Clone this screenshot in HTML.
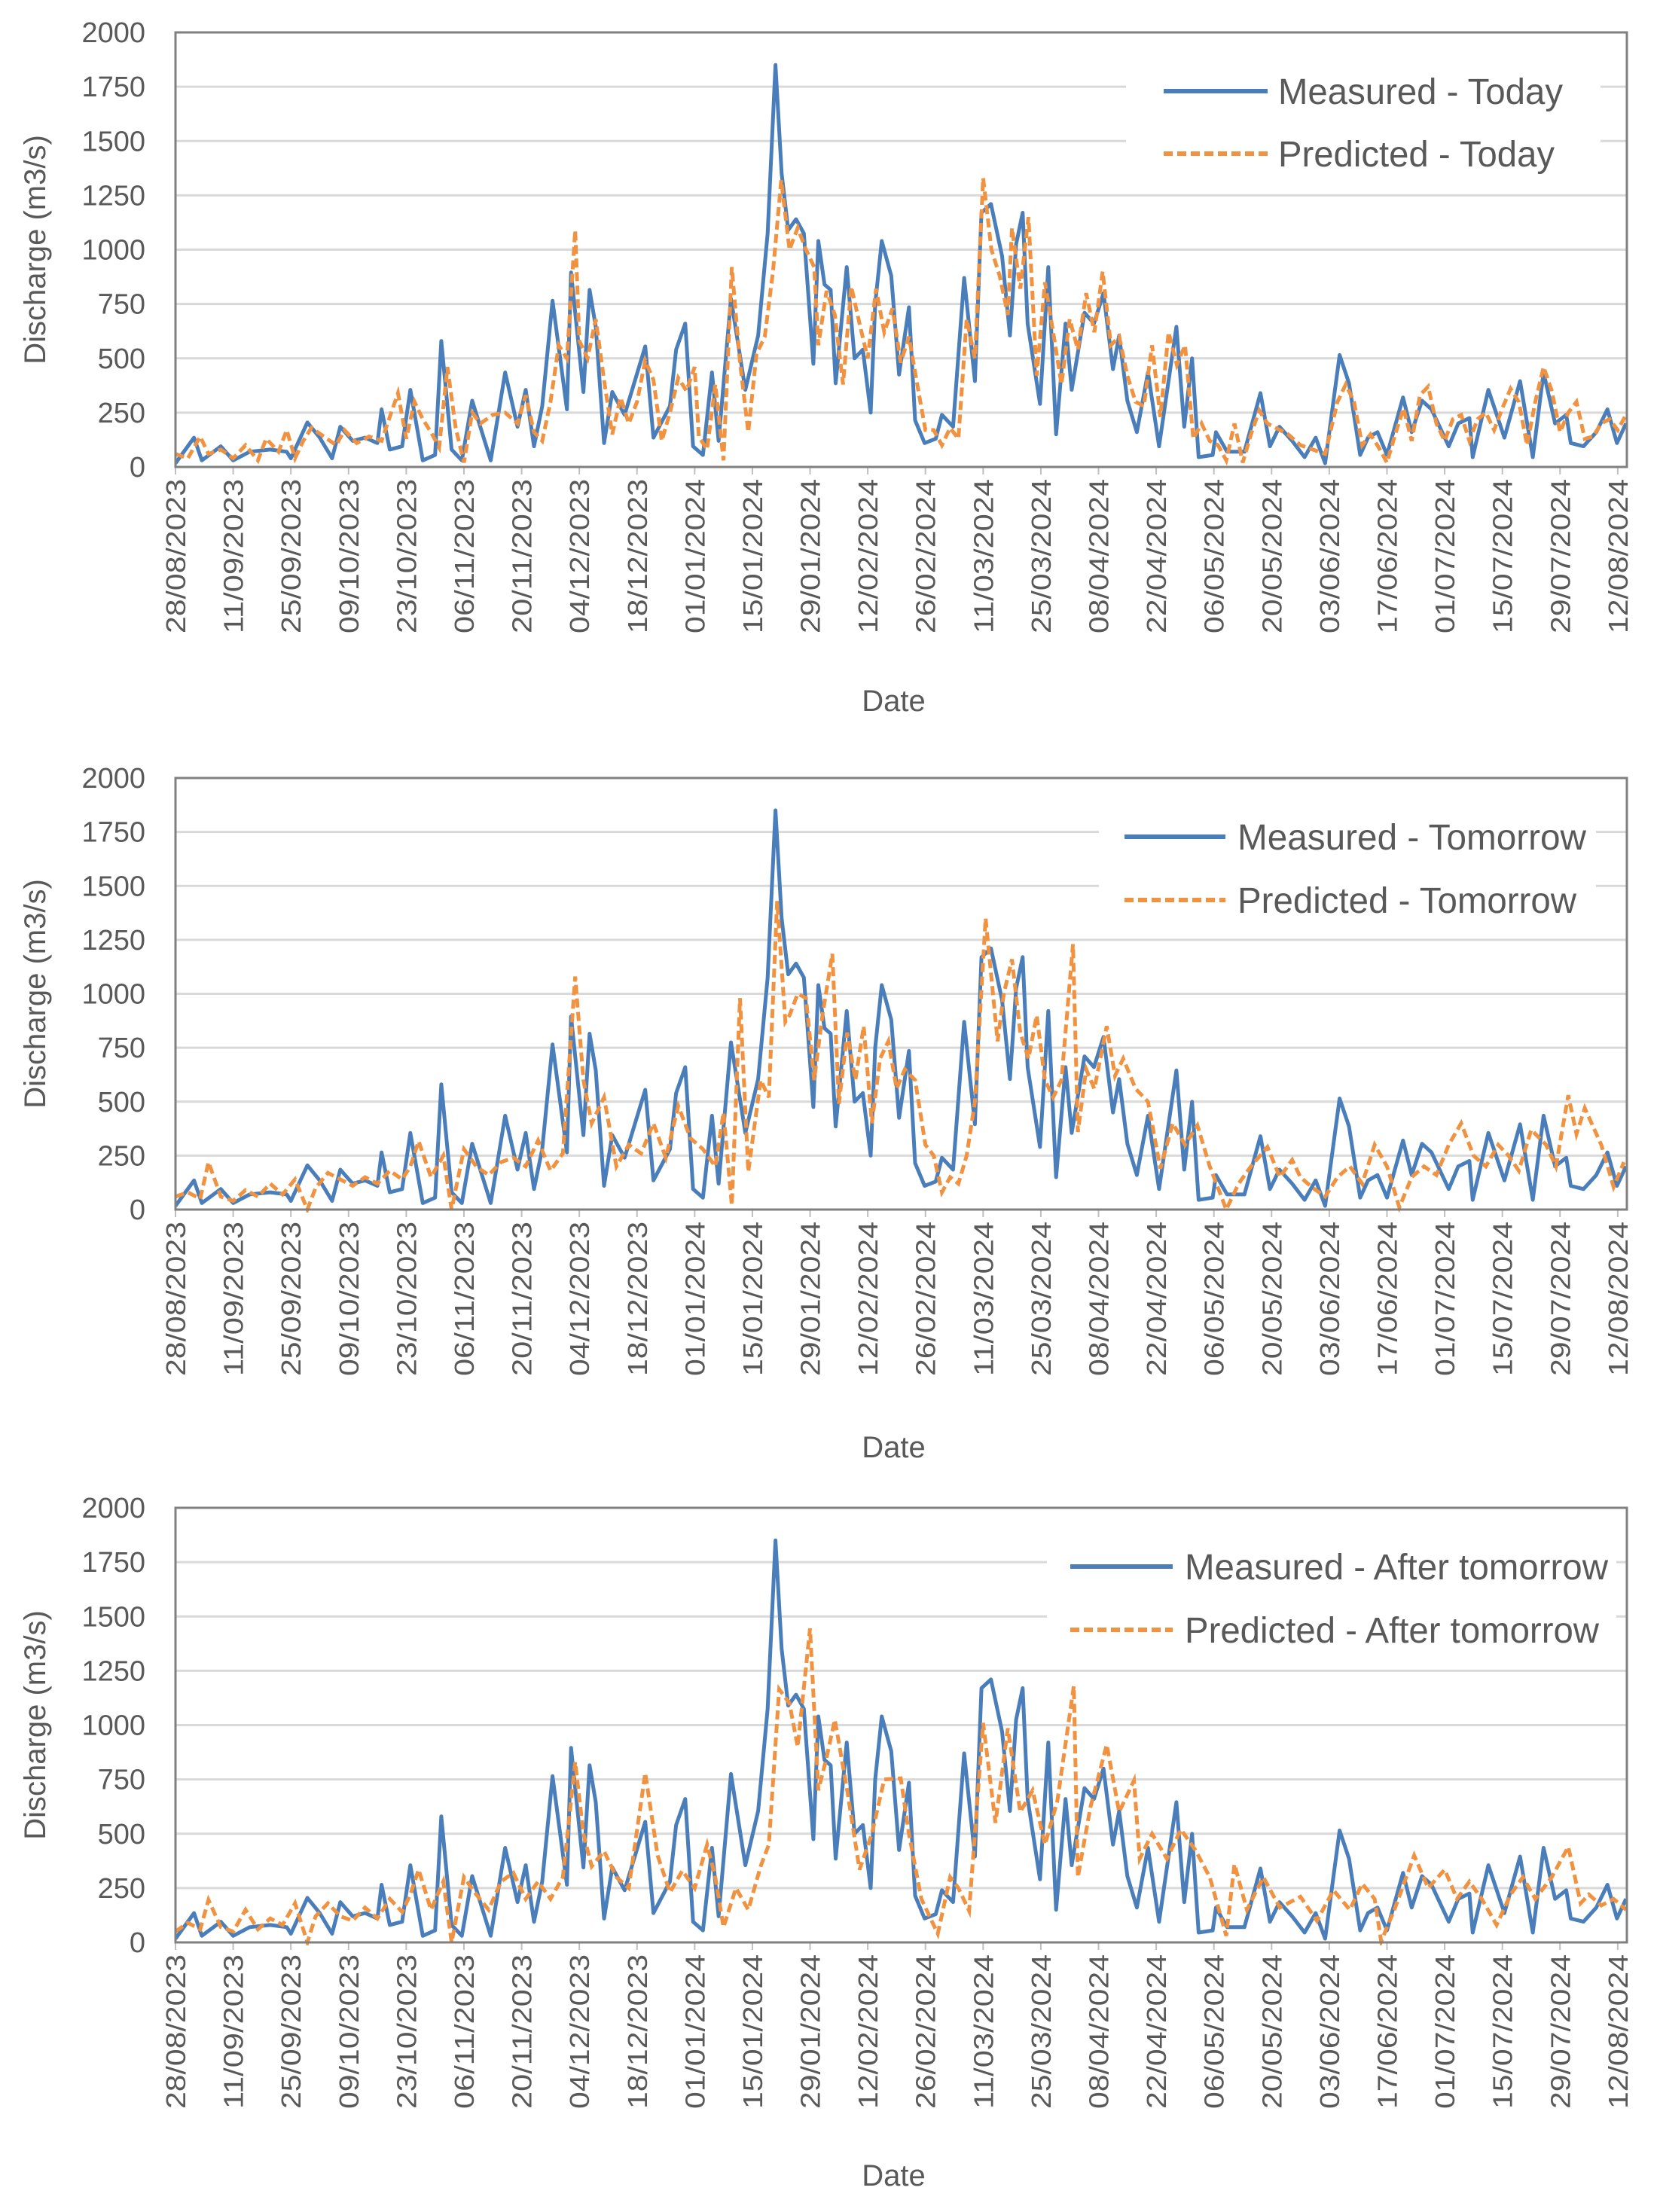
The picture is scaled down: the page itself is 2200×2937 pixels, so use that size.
<!DOCTYPE html>
<html><head><meta charset="utf-8">
<style>
html,body{margin:0;padding:0;background:#fff;}
svg{display:block;}
text{font-family:"Liberation Sans",Arial,sans-serif;fill:#595959;}
</style></head>
<body>
<svg id="root" width="2200" height="2937" viewBox="0 0 2200 2937" xmlns="http://www.w3.org/2000/svg"></svg>
<script>
const yTicks = [0, 250, 500, 750, 1000, 1250, 1500, 1750, 2000];
const dateLabels = ["28/08/2023","11/09/2023","25/09/2023","09/10/2023","23/10/2023","06/11/2023","20/11/2023","04/12/2023","18/12/2023","01/01/2024","15/01/2024","29/01/2024","12/02/2024","26/02/2024","11/03/2024","25/03/2024","08/04/2024","22/04/2024","06/05/2024","20/05/2024","03/06/2024","17/06/2024","01/07/2024","15/07/2024","29/07/2024","12/08/2024"];
const tickDays = [0,14,28,42,56,70,84,98,112,126,140,154,168,182,196,210,224,238,252,266,280,294,308,322,336,350];

const measuredDays = [0,4.5,6.4,11,14,18,23,27,28,32,35,38,40,43,46,49,50,52,55,57,60,63,64.5,67,69.5,72,76.5,80,83,85,87,89,91.5,95,96,99,100.5,102,104,106,109,114,116,120,121.5,123.7,125.6,128,130.2,131.8,134.8,138.3,141.4,143.7,145.6,147.1,148.7,150.6,152.5,154.8,156,157.5,159,160.2,162.9,164.8,166.8,168.7,169.8,171.4,173.7,175.6,178,179.5,181.8,184.5,186,188.7,191.4,194,195.6,197.9,200.6,202.5,204,205.6,206.8,209.8,211.8,213.7,216,217.5,220.6,222.9,225.2,227.5,229,231,233.3,236,238.7,242.9,244.8,246.7,248.3,251.7,252.5,255.2,259.4,263.3,265.6,267.9,271,274,276.7,279,282.5,284.8,287.5,289.4,291.7,294,297.9,300,302.5,304.8,309,311.3,314,314.8,318.6,322.5,326.3,329.4,332,334.8,337.5,338.6,341.7,344.8,347.5,349.8,352];
const measuredVals = [17,135,30,95,30,70,80,70,40,205,135,40,185,120,135,110,265,80,95,355,30,55,580,80,30,305,30,435,185,355,95,280,765,265,895,345,815,645,110,345,240,555,135,280,540,660,95,55,435,120,775,355,605,1075,1850,1350,1090,1140,1075,475,1040,840,815,385,920,500,540,250,750,1040,880,425,735,215,110,130,240,185,870,395,1170,1210,970,605,1025,1170,660,290,920,150,660,355,710,660,800,450,605,305,160,435,95,645,185,500,45,55,160,70,70,340,95,185,120,45,135,17,515,385,55,135,160,55,320,160,305,265,95,200,225,45,355,135,395,45,435,200,240,110,95,160,265,110,200];

const predTodayDays = [0,3,6,8,11,14,17,20,22,25,27,29,31,33,36,39,41,44,47,50,52,54,56,58,60,62,64,66,68,70,72,74,77,80,83,85,87,89,91,93,95,97,98,100,102,104,106,108,110,112,114,116,118,120,122,124,126,127,129,131,133,135,137,139,141,143,145,147,149,151,153,155,156,158,160,162,164,166,168,170,172,174,176,178,180,182,184,186,188,190,192,194,196,198,200,202,203,205,207,209,211,213,215,217,219,221,223,225,227,229,231,233,235,237,239,241,243,245,247,249,251,253,255,257,259,261,263,265,267,270,273,276,279,282,284,286,288,290,292,294,296,298,300,302,304,306,308,310,312,314,316,318,320,322,324,326,328,330,332,334,336,338,340,342,344,346,348,350,352];
const predTodayVals = [60,40,140,60,80,40,100,30,130,70,170,40,120,180,140,100,170,110,140,120,230,340,130,300,220,160,90,460,180,20,250,200,240,250,200,330,160,120,300,560,500,1090,580,500,680,400,150,320,200,300,490,400,120,250,410,350,460,140,80,380,30,920,480,160,520,600,900,1320,1000,1100,1000,920,560,810,700,380,830,660,500,820,620,730,480,600,380,170,170,100,180,130,680,500,1330,1000,880,700,1100,820,1150,420,850,620,380,680,540,800,620,900,560,600,420,300,280,560,230,620,470,560,130,200,120,100,30,200,20,150,260,200,180,150,100,80,60,300,380,300,100,150,90,20,150,270,120,330,370,200,120,220,240,120,220,250,170,270,360,300,100,300,460,350,160,250,300,130,140,200,220,170,240];

const predTomorrowDays = [0,3,6,8,11,14,17,20,23,26,29,32,34,37,40,43,46,49,52,55,57,59,62,65,67,70,73,76,79,82,85,88,91,94,97,99,101,104,107,110,113,116,119,122,125,128,131,133,135,137,139,142,144,146,148,149,151,153,155,157,159.4,161,163,165,167,169,171,173,175,177,179.5,182,184,186,188,190,192,194,196.6,199.5,201,203,205,207,209,211,213,215,217.8,219,221,223,226,228,230,233,236,239,242,245,248,251,253,255,258,261,265,268,271,273,276,279,282,285,288,291,294,297,300,303,306,309,312,315,318,321,323.5,326,329,332.6,335,338,340,342,346,349,351.5];
const predTomorrowVals = [60,80,50,220,60,40,90,60,120,70,140,0,100,170,140,110,150,120,180,140,200,317,150,250,0,280,200,160,220,240,200,320,180,260,1080,600,400,520,200,300,260,400,240,480,330,280,200,450,20,980,175,600,520,1430,870,900,1000,980,600,900,1185,490,820,600,850,400,700,780,560,650,600,300,250,80,150,120,250,500,1350,780,1000,1160,820,700,900,600,520,600,1230,360,650,560,850,620,700,560,500,190,400,300,390,200,100,0,120,200,290,150,230,150,100,60,150,200,120,300,200,10,150,200,160,300,400,250,200,300,250,180,370,300,200,530,350,470,300,105,220,200,175];

const predAfterDays = [0,3,6,8,11,14,17,20,23,26,29,32,34,37,40,43,46,49,52,55,57,59,62,65,67,70,73,76,79,82,85,88,91,94,97,99,101,104,107,110,114,117,120,123,126,129,131,133,136,139,142,144,146.5,149,151,154,156,158,160,163,166,169,172,176,178,181,185,188,190,192.6,196,199,202,205,208,211,214,218,219,222,226,229,232.6,234,237,240.6,244,247.5,251,255,257,260,264,268,273,277,281,285,288,291,292.6,296,300.6,304,308,311,314,317,320.6,324,327,330,334,338,341,343,346,349,352];
const predAfterVals = [50,90,60,195,70,50,150,60,110,80,180,0,120,180,120,100,160,110,200,140,220,335,150,280,0,300,220,150,280,320,200,280,200,300,830,500,350,420,300,250,780,400,230,330,250,450,300,70,250,150,350,450,1165,1100,900,1445,700,850,1025,700,335,500,750,755,500,200,40,300,250,145,1010,550,985,600,700,450,650,1180,300,620,910,600,745,385,500,385,520,425,300,30,360,150,300,160,210,100,240,150,270,200,5,160,400,250,335,200,280,200,80,220,300,200,300,440,180,220,170,200,150];

const charts = [
  {top:43, zero:620, dateY:930, legend:{bgX:1495,bgW:630,bgY:75,bgH:165,lineX1:1545,lineX2:1683,textX:1697,row1:121,row2:204,w1:378,w2:367}, m:"Measured - Today", p:"Predicted - Today", pdays:predTodayDays, pvals:predTodayVals, key:"today"},
  {top:1033, zero:1606, dateY:1921, legend:{bgX:1459,bgW:660,bgY:1065,bgH:170,lineX1:1493,lineX2:1627,textX:1643,row1:1111,row2:1195,w1:463,w2:450}, m:"Measured - Tomorrow", p:"Predicted - Tomorrow", pdays:predTomorrowDays, pvals:predTomorrowVals, key:"tomorrow"},
  {top:2002, zero:2579, dateY:2888, legend:{bgX:1390,bgW:756,bgY:2035,bgH:170,lineX1:1421,lineX2:1557,textX:1573,row1:2080,row2:2164,w1:562,w2:550}, m:"Measured - After tomorrow", p:"Predicted - After tomorrow", pdays:predAfterDays, pvals:predAfterVals, key:"after-tomorrow"}
];

const NS = "http://www.w3.org/2000/svg";
const root = document.getElementById('root');
const LEFT = 233, RIGHT = 2160, DAY_PX = 5.471;
function mk(tag, attrs, parent){const e=document.createElementNS(NS,tag);for(const k in attrs)e.setAttribute(k,attrs[k]);parent.appendChild(e);return e;}
function xScale(d){return LEFT + d*DAY_PX;}

charts.forEach(c=>{
  const g = mk('g',{},root);
  
  
  const yScale = v => c.zero - v*(c.zero - c.top)/2000;
  // gridlines
  yTicks.forEach(t=>{
    if(t===0||t===2000) return;
    const gl = mk('line',{x1:LEFT,x2:RIGHT,y1:yScale(t),y2:yScale(t),stroke:'#d9d9d9','stroke-width':3},g);
    
    
  });
  // y tick labels
  yTicks.forEach(t=>{
    const tx = mk('text',{x:193,y:yScale(t)+13,'text-anchor':'end','font-size':38},g);
    tx.textContent = t;
    
    
  });
  // y axis title
  const cy = (c.top+c.zero)/2;
  const yt = mk('text',{x:0,y:0,'text-anchor':'middle','font-size':40,transform:`translate(60,${cy}) rotate(-90)`},g);
  yt.textContent = 'Discharge (m3/s)';
  
  
  // x ticks and labels
  tickDays.forEach((d,i)=>{
    const x = xScale(d);
    const tk = mk('line',{x1:x,x2:x,y1:c.zero,y2:c.zero+10,stroke:'#bfbfbf','stroke-width':2},g);
    
    
    const tl = mk('text',{x:0,y:0,'text-anchor':'end','font-size':36,textLength:205,lengthAdjust:'spacingAndGlyphs',transform:`translate(${x+13},${c.zero+16}) rotate(-90)`},g);
    tl.textContent = dateLabels[i];
    
    
  });
  // x axis title
  const xt = mk('text',{x:(LEFT+RIGHT)/2-10,y:c.dateY+14,'text-anchor':'middle','font-size':40},g);
  xt.textContent = 'Date';
  
  
  // legend background
  const L = c.legend;
  const lb = mk('rect',{x:L.bgX,y:L.bgY,width:L.bgW,height:L.bgH,fill:'#fff'},g);
  
  
  // series
  const clip = 'clip-'+c.key;
  const cp = mk('clipPath',{id:clip},g);
  mk('rect',{x:LEFT,y:c.top,width:RIGHT-LEFT,height:c.zero-c.top+4},cp);
  const mpts = measuredDays.map((d,i)=>xScale(d).toFixed(1)+','+yScale(measuredVals[i]).toFixed(1)).join(' ');
  const ml = mk('polyline',{points:mpts,fill:'none',stroke:'#4a7ebb','stroke-width':5,'stroke-linejoin':'round','clip-path':`url(#${clip})`},g);
  
  
  const ppts = c.pdays.map((d,i)=>xScale(d).toFixed(1)+','+yScale(c.pvals[i]).toFixed(1)).join(' ');
  const pl = mk('polyline',{points:ppts,fill:'none',stroke:'#f0923f','stroke-width':5,'stroke-dasharray':'12 6','clip-path':`url(#${clip})`},g);
  
  
  // plot frame
  const fr = mk('rect',{x:LEFT,y:c.top,width:RIGHT-LEFT,height:c.zero-c.top,fill:'none',stroke:'#808080','stroke-width':3},g);
  
  
  // legend entries
  const le1 = mk('g',{},g);
  
  
  mk('line',{x1:L.lineX1,x2:L.lineX2,y1:L.row1,y2:L.row1,stroke:'#4a7ebb','stroke-width':6},le1);
  const t1 = mk('text',{x:L.textX,y:L.row1+17,'font-size':48,textLength:L.w1,lengthAdjust:'spacingAndGlyphs'},le1);
  t1.textContent = c.m;
  const le2 = mk('g',{},g);
  
  
  mk('line',{x1:L.lineX1,x2:L.lineX2,y1:L.row2,y2:L.row2,stroke:'#f0923f','stroke-width':6,'stroke-dasharray':'12 6'},le2);
  const t2 = mk('text',{x:L.textX,y:L.row2+17,'font-size':48,textLength:L.w2,lengthAdjust:'spacingAndGlyphs'},le2);
  t2.textContent = c.p;
});
</script>
</body></html>
